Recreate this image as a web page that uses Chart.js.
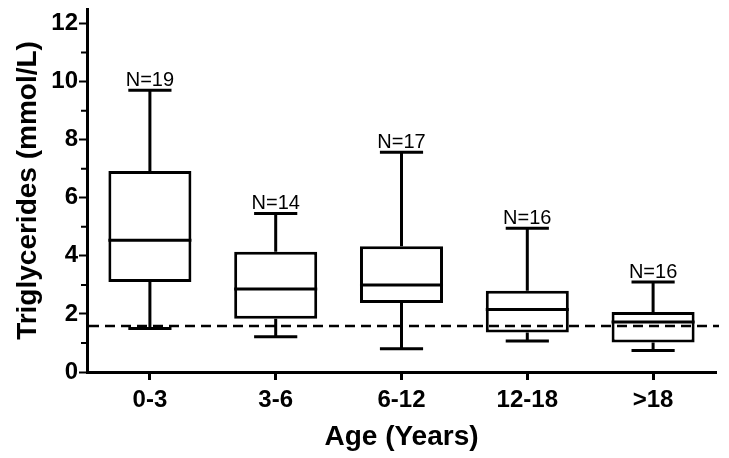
<!DOCTYPE html>
<html>
<head>
<meta charset="utf-8">
<script src="https://cdn.jsdelivr.net/npm/chart.js@4"></script>
<style>
  html, body { margin: 0; padding: 0; background: #fff; }
  #wrap { width: 729px; height: 458px; }
</style>
</head>
<body>
<div id="wrap"><canvas id="chart" width="729" height="458"></canvas></div>
<script>
// data
const categories = ['0-3', '3-6', '6-12', '12-18', '>18'];
const nCounts = [19, 14, 17, 16, 16];
const minVals = [1.50, 1.21, 0.80, 1.07, 0.74];
const q1Vals = [3.10, 1.83, 2.38, 1.36, 1.02];
const medianVals = [4.54, 2.86, 3.00, 2.15, 1.72];
const q3Vals = [6.92, 4.14, 4.33, 2.80, 2.07];
const maxVals = [9.70, 5.46, 7.57, 4.95, 3.10];
const refLevel = 1.58;

const FONT = 'Liberation Sans, Arial, sans-serif';

// whiskers, medians, N labels and the dashed reference line
const boxExtras = {
    id: 'boxExtras',
    afterDatasetsDraw(chart) {
        const ctx = chart.ctx;
        const y = chart.scales.y;
        const area = chart.chartArea;
        const bars = chart.getDatasetMeta(0).data;

        ctx.save();
        ctx.strokeStyle = '#000';
        ctx.lineWidth = 3;
        ctx.lineCap = 'butt';

        bars.forEach((bar, i) => {
            const cx = bar.x;
            const half = bar.width / 2;
            const capHalf = bar.width * 0.26;

            const yMin = y.getPixelForValue(minVals[i]);
            const yQ1 = y.getPixelForValue(q1Vals[i]);
            const yMed = y.getPixelForValue(medianVals[i]);
            const yQ3 = y.getPixelForValue(q3Vals[i]);
            const yMax = y.getPixelForValue(maxVals[i]);

            ctx.beginPath();
            // median
            ctx.moveTo(cx - half, yMed);
            ctx.lineTo(cx + half, yMed);
            // whiskers
            ctx.moveTo(cx, yQ3);
            ctx.lineTo(cx, yMax);
            ctx.moveTo(cx, yQ1);
            ctx.lineTo(cx, yMin);
            // caps
            ctx.moveTo(cx - capHalf, yMax);
            ctx.lineTo(cx + capHalf, yMax);
            ctx.moveTo(cx - capHalf, yMin);
            ctx.lineTo(cx + capHalf, yMin);
            ctx.stroke();

            ctx.fillStyle = '#000';
            ctx.font = '20px ' + FONT;
            ctx.textAlign = 'center';
            ctx.textBaseline = 'alphabetic';
            ctx.fillText('N=' + nCounts[i], cx, yMax - 4);
        });

        // dashed reference line
        const yRef = y.getPixelForValue(refLevel);
        ctx.lineWidth = 2.5;
        ctx.setLineDash([10, 6]);
        ctx.beginPath();
        ctx.moveTo(area.left + 2, yRef);
        ctx.lineTo(area.right + 3, yRef);
        ctx.stroke();
        ctx.restore();
    },
    // shorter minor ticks on the odd values
    afterDraw(chart) {
        const ctx = chart.ctx;
        const y = chart.scales.y;
        ctx.save();
        ctx.strokeStyle = '#000';
        ctx.lineWidth = 2;
        ctx.beginPath();
        y.ticks.forEach(t => {
            if (t.value % 2 === 1) {
                const py = y.getPixelForValue(t.value);
                ctx.moveTo(y.right - 6, py);
                ctx.lineTo(y.right, py);
            }
        });
        ctx.stroke();
        ctx.restore();
    }
};

new Chart(document.getElementById('chart'), {
    type: 'bar',
    data: {
        labels: categories,
        datasets: [{
            data: q1Vals.map((q, i) => [q, q3Vals[i]]),
            backgroundColor: '#fff',
            borderColor: '#000',
            borderWidth: 3,
            borderSkipped: false,
            barPercentage: 0.66,
            categoryPercentage: 1
        }]
    },
    options: {
        responsive: false,
        animation: false,
        layout: { padding: { top: 9, right: 13 } },
        plugins: {
            legend: { display: false },
            tooltip: { enabled: false }
        },
        scales: {
            x: {
                offset: true,
                grid: {
                    display: true,
                    drawOnChartArea: false,
                    tickLength: 8,
                    tickWidth: 3,
                    tickColor: '#000',
                    offset: false
                },
                border: { display: true, color: '#000', width: 3 },
                ticks: {
                    color: '#000',
                    padding: 6,
                    font: { family: FONT, size: 24, weight: 'bold' }
                },
                title: {
                    display: true,
                    text: 'Age (Years)',
                    color: '#000',
                    padding: { top: 0, bottom: 4 },
                    font: { family: FONT, size: 28, weight: 'bold' }
                },
                afterFit(scale) { scale.height = 86; }
            },
            y: {
                min: 0,
                max: 12.5,
                grid: {
                    display: true,
                    drawOnChartArea: false,
                    tickLength: 8,
                    tickWidth: 2,
                    tickColor: ctx => (ctx.tick && ctx.tick.value % 2 === 0 ? '#000' : 'rgba(0,0,0,0)')
                },
                border: { display: true, color: '#000', width: 3 },
                ticks: {
                    stepSize: 1,
                    includeBounds: false,
                    autoSkip: false,
                    color: '#000',
                    padding: 1,
                    font: { family: FONT, size: 24, weight: 'bold' },
                    callback: v => (v % 2 === 0 ? v : '')
                },
                title: {
                    display: true,
                    text: 'Triglycerides (mmol/L)',
                    color: '#000',
                    padding: { top: 11, bottom: 0 },
                    font: { family: FONT, size: 28, weight: 'bold' }
                },
                afterFit(scale) {
                    scale.width = 87;
                    scale.paddingTop = 0;
                }
            }
        }
    },
    plugins: [boxExtras]
});
</script>
</body>
</html>
